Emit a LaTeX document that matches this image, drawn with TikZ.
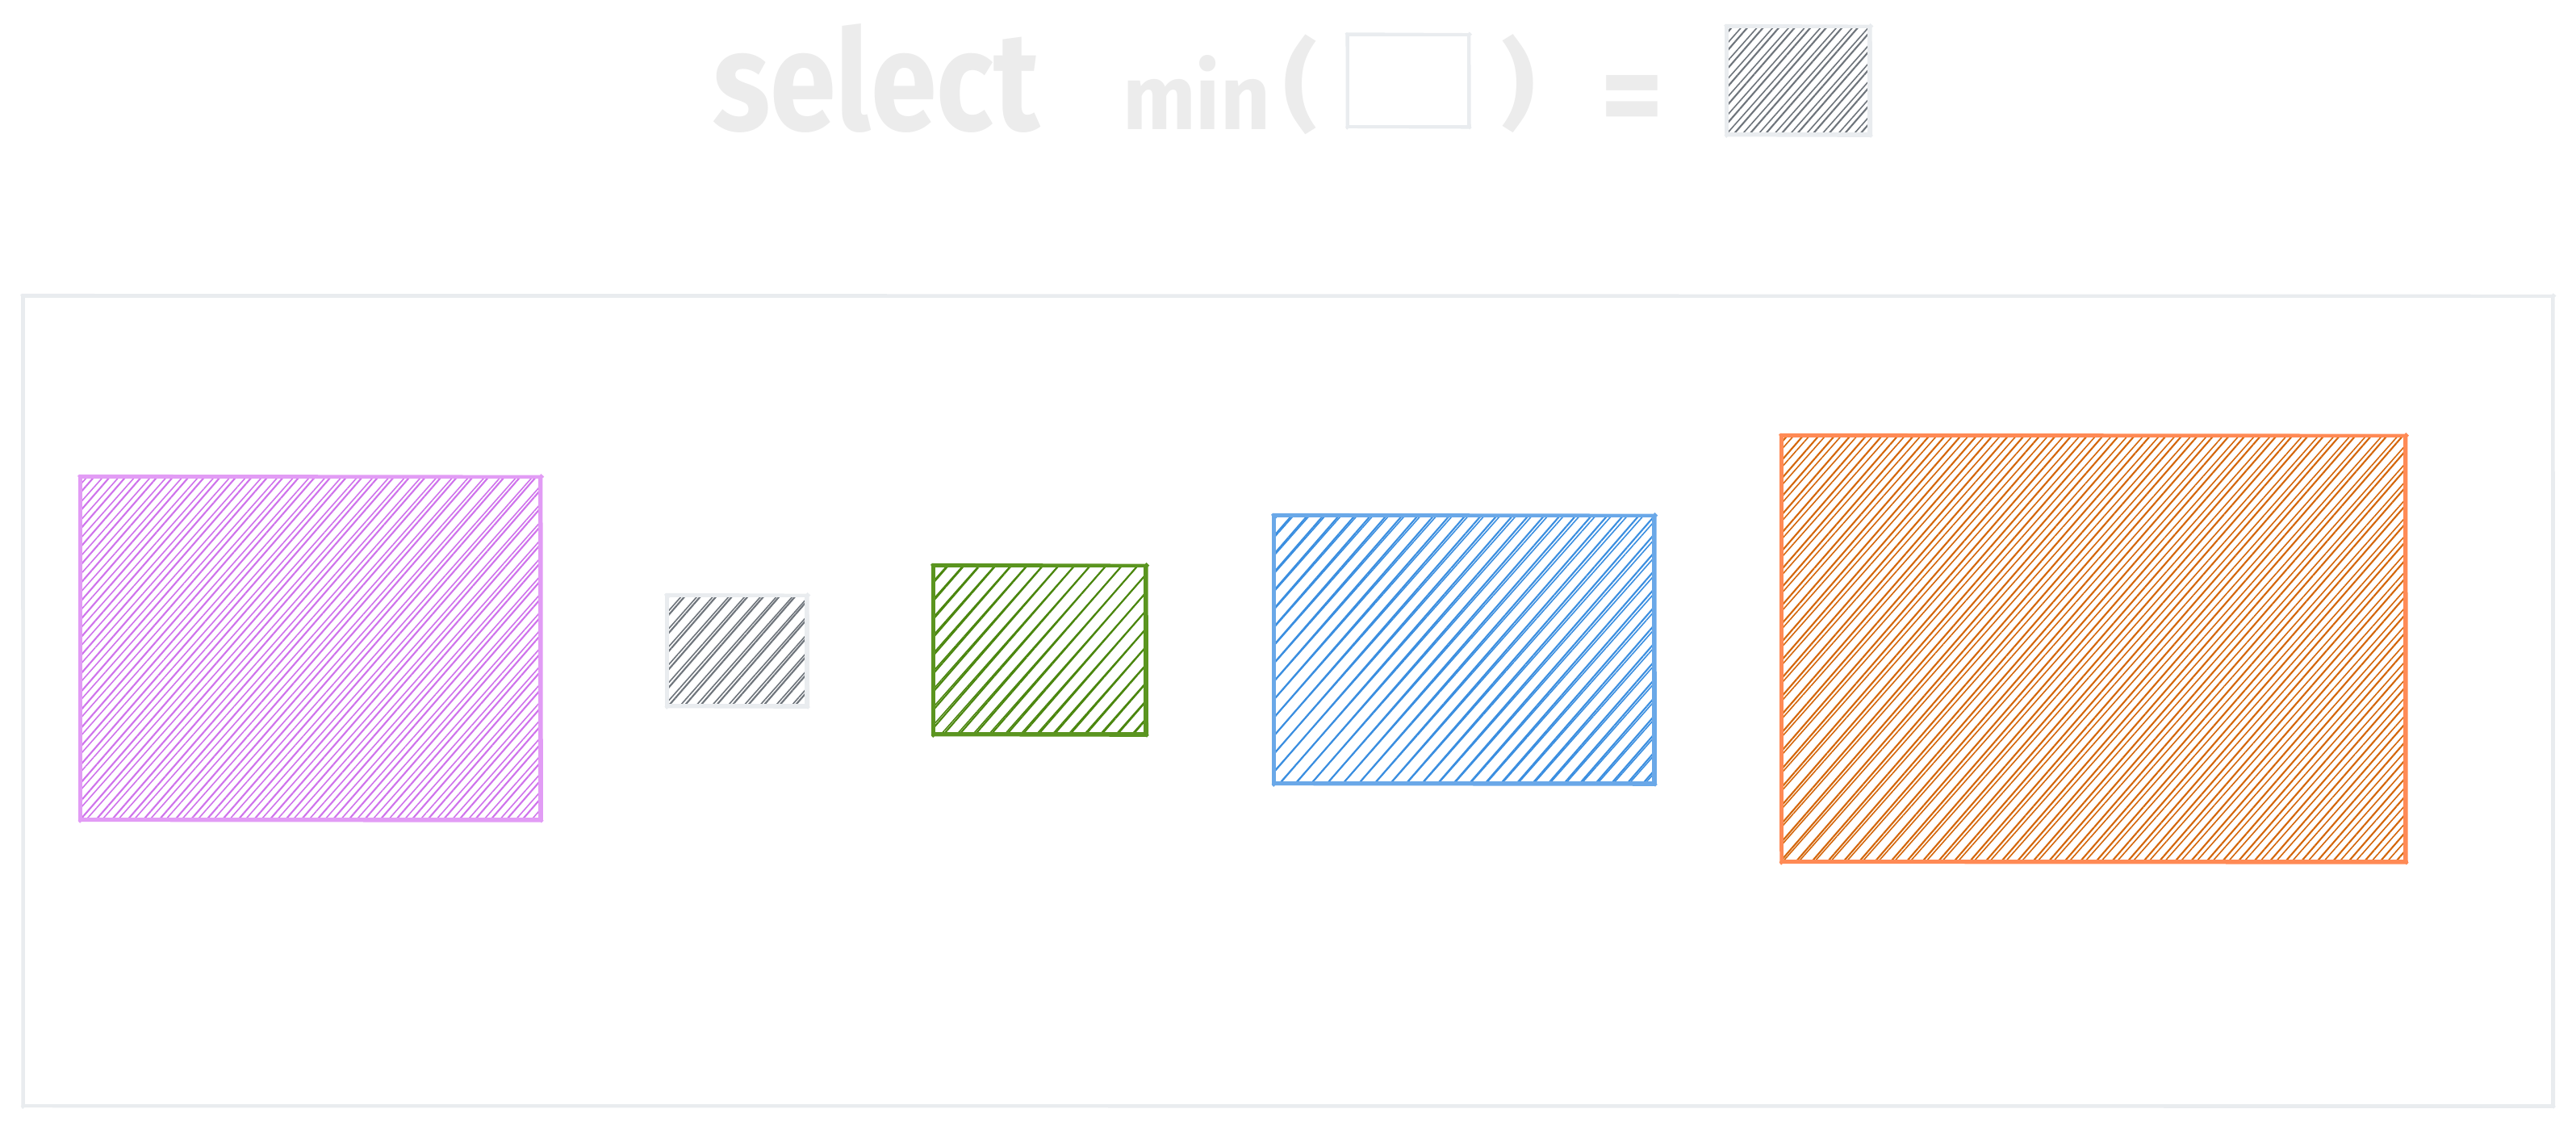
\documentclass[tikz,border=0pt]{standalone}
\usepackage{fontspec}
\setmainfont{Fira Sans}
\usetikzlibrary{patterns.meta,calc}
\definecolor{txt}{HTML}{ECECEC}
\definecolor{lightS}{HTML}{E9ECEF}
\definecolor{grayH}{HTML}{6E747B}
\definecolor{purS}{HTML}{E29CF5}
\definecolor{purH}{HTML}{CF72EC}
\definecolor{bluS}{HTML}{6AA8E8}
\definecolor{bluH}{HTML}{3A8EE0}
\definecolor{orS}{HTML}{FF8A55}
\definecolor{orH}{HTML}{D4660A}
\definecolor{grS}{HTML}{5B9520}
\definecolor{grH}{HTML}{4A860E}
\tikzset{
  titletext/.style={text=txt, inner sep=0pt, outer sep=0pt, anchor=south west, font=\bfseries},
  hatchbox/.style 2 args={inner sep=0pt, outer sep=0pt, anchor=north west,
    pattern={Lines[angle=49,distance=4.2pt,line width=0.6pt]}, pattern color=#2,
    postaction={pattern={Lines[angle=48.5,distance=4.2pt,xshift=0.9pt,line width=0.45pt]}, pattern color=#2}},
  emptybox/.style={inner sep=0pt, outer sep=0pt, anchor=north west},
}
% #1 node name, #2 stroke colour, #3 line width
\newcommand\skborder[3]{%
  \draw[#2, line width=#3] (#1.north west) rectangle (#1.south east);
  \draw[#2, line width=0.8*#3, line cap=round]
    ($(#1.north west)+(-0.02,0.012)$) -- ($(#1.north east)+(0.025,0.004)$)
    ($(#1.north east)+(0.008,0.02)$) -- ($(#1.south east)+(0.012,-0.018)$)
    ($(#1.south east)+(0.02,-0.01)$) -- ($(#1.south west)+(-0.015,-0.004)$)
    ($(#1.south west)+(-0.008,-0.02)$) -- ($(#1.north west)+(-0.01,0.015)$);
}
% #1 name, #2 x1, #3 y1, #4 x2, #5 y2 (in 1/100 cm, y downwards), #6 stroke, #7 hatch
\newcommand\skbox[7]{%
  \node[hatchbox={#6}{#7}, minimum width={(#4-#2)*0.01cm}, minimum height={(#5-#3)*0.01cm}] (#1) at (#2/100,-#3/100) {};
  \skborder{#1}{#6}{1.4pt}
}
\begin{document}
\begin{tikzpicture}
\useasboundingbox[fill=white] (0,0) rectangle (31.92,-14);

% outer frame
\node[emptybox, minimum width=31.34cm, minimum height=10.03cm] (frame) at (0.29,-3.67) {};
\skborder{frame}{lightS}{1.3pt}

% title
\node[titletext] (sel) at (8.83,-1.64) {\resizebox{4.05cm}{1.32cm}{select}};
\node[titletext] (min) at (13.91,-1.60) {\resizebox{1.83cm}{0.92cm}{min}};
\node[titletext] (lp) at (15.90,-1.67) {\resizebox*{0.42cm}{1.24cm}{(}};
\node[emptybox, minimum width=1.50cm, minimum height=1.14cm] (slot) at (16.70,-0.43) {};
\skborder{slot}{lightS}{1.1pt}
\node[titletext] (rp) at (18.60,-1.65) {\resizebox*{0.42cm}{1.22cm}{)}};
\node[titletext] (eq) at (19.83,-1.70) {\resizebox*{0.78cm}{0.77cm}{=}};
\skbox{result}{2140}{33}{2317}{167}{lightS}{grayH}

% boxes
\skbox{purple}{100}{591}{670}{1016}{purS}{purH}
\skbox{gray}{827}{738}{1000}{875}{lightS}{grayH}
\skbox{green}{1157}{701}{1420}{910}{grS}{grH}
\skbox{blue}{1579}{639}{2050}{971}{bluS}{bluH}
\skbox{orange}{2208}{540}{2981}{1068}{orS}{orH}
\end{tikzpicture}
\end{document}
